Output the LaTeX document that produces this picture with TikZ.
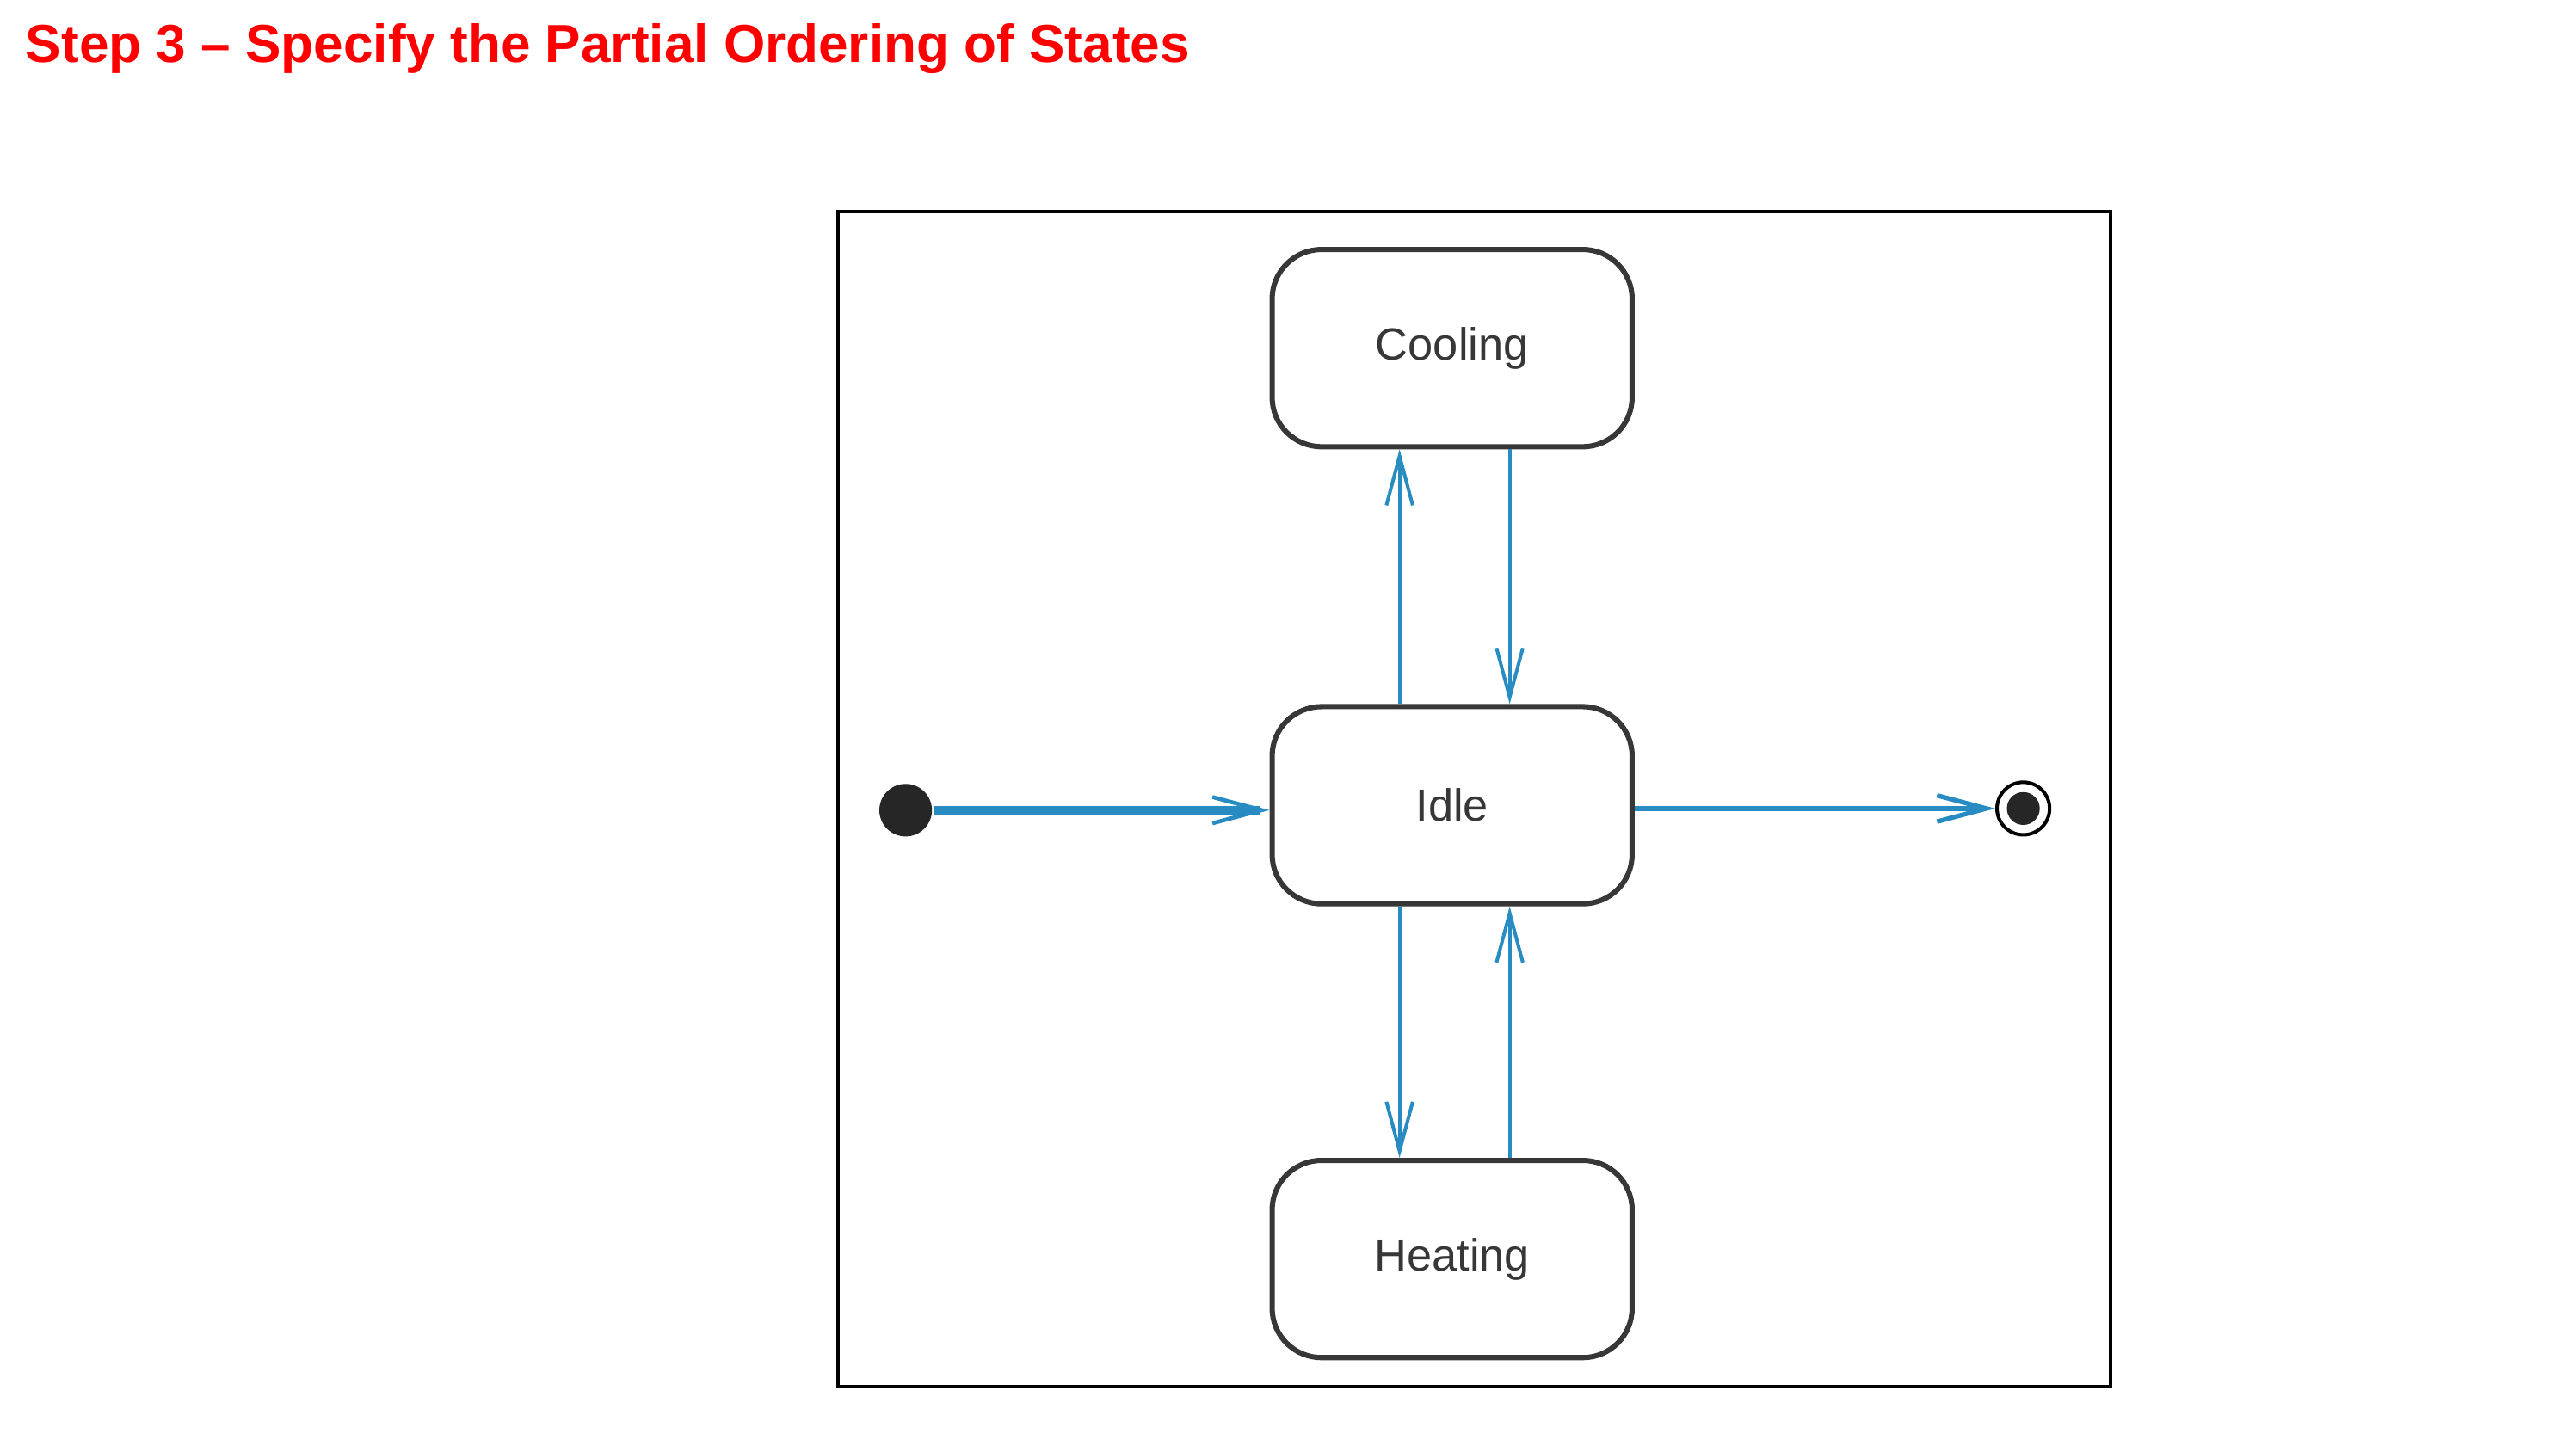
\documentclass[tikz,border=0pt]{standalone}
\usepackage{fontspec}
\setmainfont{Liberation Sans}
\usetikzlibrary{arrows.meta,positioning}
\tikzset{>={Straight Barb[length=3mm,width=1.6mm]}}
\definecolor{trans}{RGB}{40,140,195}
\definecolor{edge}{RGB}{55,55,55}
\tikzset{statebox/.style={draw=edge,line width=0.9pt,rounded corners=3mm,minimum width=2.19cm,minimum height=1.2cm,text=edge,font=\fontsize{7.8}{9}\selectfont}}

\begin{document}
\begin{tikzpicture}

\pgfmathsetmacro{\xl}{5.10}
\pgfmathsetmacro{\xr}{12.84}
\pgfmathsetmacro{\yt}{-1.29}
\pgfmathsetmacro{\yb}{-8.44}
  \useasboundingbox (0,0) rectangle (15.673,-8.795);
  \node[anchor=base west,inner sep=0,text=red,font=\fontsize{9.25}{11}\selectfont\bfseries] (title) at (0.15,-0.38) {Step 3 \textendash{} Specify the Partial Ordering of States};
  \draw[line width=0.6pt](\xl,\yt) rectangle (\xr,\yb);

  \node[statebox] (idle) at (8.835,-4.90) {Idle};
  \node[statebox,above=1.55cm of idle] (cooling) {Cooling};
  \node[statebox,below=1.53cm of idle] (heating) {Heating};
  \node[circle,fill=black!85,minimum size=3.2mm,inner sep=0] (init) at (5.51,-4.93) {};
  \node[circle,draw=black,line width=0.6pt,minimum size=3.2mm,inner sep=0] (final) at (12.31,-4.92) {};
  \node[circle,fill=black!85,minimum size=2mm,inner sep=0] (finaldot) at (final) {};

  \draw[-{Straight Barb[length=3mm,width=1.6mm,line width=0.7pt]},trans,line width=1.4pt](init)--(idle.west |- init);
  \draw[->,trans,line width=0.8pt](idle.east |- final)--(final);
  \draw[->,trans,line width=0.6pt]([xshift=-3.2mm]idle.north)--([xshift=-3.2mm]cooling.south);
  \draw[->,trans,line width=0.6pt]([xshift=3.5mm]cooling.south)--([xshift=3.5mm]idle.north);
  \draw[->,trans,line width=0.6pt]([xshift=-3.2mm]idle.south)--([xshift=-3.2mm]heating.north);
  \draw[->,trans,line width=0.6pt]([xshift=3.5mm]heating.north)--([xshift=3.5mm]idle.south);

  \end{tikzpicture}
\end{document}
